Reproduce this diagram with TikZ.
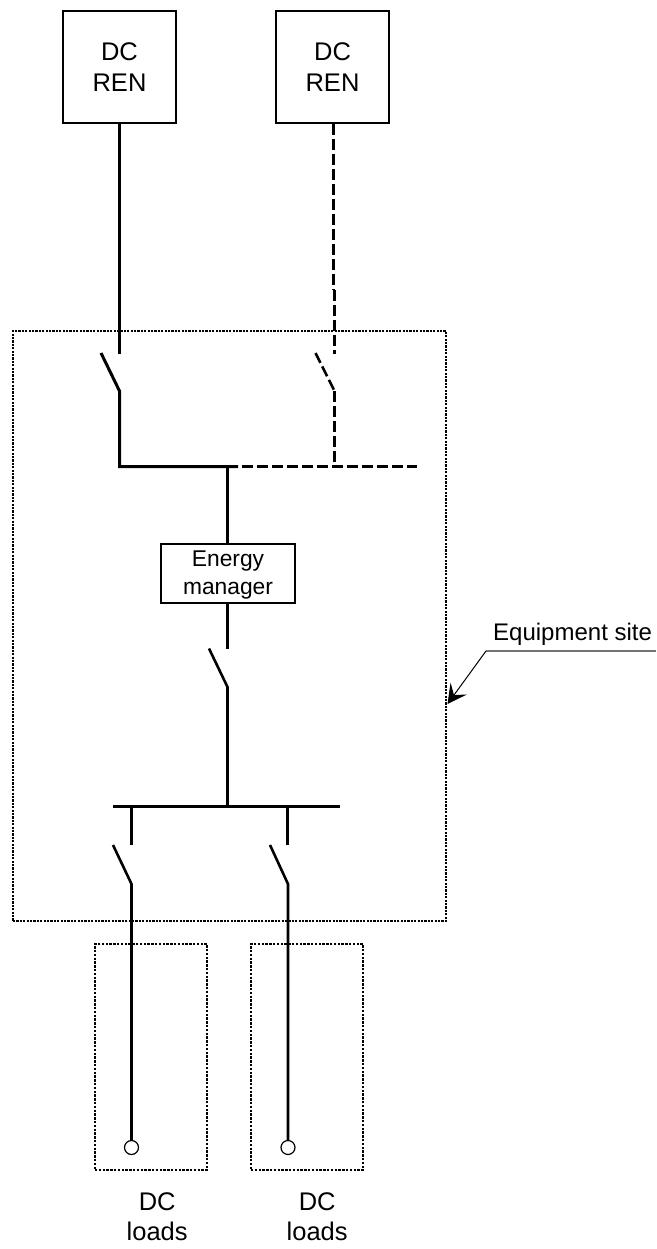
\documentclass[tikz,border=0pt]{standalone}
\usepackage{fontspec}
\setmainfont{Liberation Sans}
\usetikzlibrary{arrows.meta}
\tikzset{
  srcbox/.style={draw=black,line width=2pt,minimum width=113pt,minimum height=112pt,inner sep=0pt,align=center,font=\fontsize{25.5}{30.5}\selectfont},
  mgrbox/.style={draw=black,line width=2pt,minimum width=134pt,minimum height=59pt,inner sep=0pt,align=center,font=\fontsize{22.8}{27.5}\selectfont},
  region/.style={draw=black,line width=1.4pt,dash pattern=on 2.2pt off 1.2pt,minimum width=0pt,inner sep=0pt},
  loadregion/.style={region,line width=1.9pt,dash pattern=on 2.4pt off 1.4pt},
  wire/.style={draw=black,line width=3pt},
  thinwire/.style={draw=black,line width=2.6pt},
  dwire/.style={wire,dash pattern=on 11pt off 4pt},
  lbl/.style={inner sep=0pt,align=center},
  term/.style={circle,draw=black,line width=1.2pt,fill=white,minimum size=14pt,inner sep=0pt},
}
\begin{document}
\begin{tikzpicture}[x=1pt,y=-1pt]
\useasboundingbox (0,0) rectangle (656,1249);
% regions
\node[region,minimum width=433pt,minimum height=590pt] (site) at (229.5,626) {};
\node[loadregion,minimum width=112pt,minimum height=226pt] (loadA) at (151,1057) {};
\node[loadregion,minimum width=112pt,minimum height=226pt] (loadB) at (307,1057) {};
% boxes
\node[srcbox] (renA) at (119.5,67) {DC\\REN};
\node[srcbox] (renB) at (332.5,67) {DC\\REN};
\node[mgrbox] (mgr) at (228,573.5) {\rule{0pt}{18.5pt}Energy\\manager};
% terminals
\node[term] (termA) at (131.5,1147.5) {};
\node[term] (termB) at (288,1147.5) {};
% junction coordinates
\coordinate (sw1t) at (119.5,354);
\coordinate (sw1b) at (119.5,391);
\coordinate (sw1e) at (101,353);
\coordinate (sw2j) at (333.5,290);
\coordinate (sw2t) at (334.5,353.5);
\coordinate (sw2b) at (334.5,391);
\coordinate (sw2e) at (315.5,353);
\coordinate (busL) at (119.5,466.5);
\coordinate (busM) at (227.5,466.5);
\coordinate (busS) at (238,466.5);
\coordinate (busD) at (242,466.5);
\coordinate (busR) at (334.5,466.5);
\coordinate (busE) at (417,466.5);
\coordinate (sw3t) at (227.5,649);
\coordinate (sw3b) at (227.5,687);
\coordinate (sw3e) at (209,648.5);
\coordinate (bus2M) at (227.5,806.5);
\coordinate (bus2L) at (113,806.5);
\coordinate (bus2R) at (340,806.5);
\coordinate (dropA) at (131.5,806.5);
\coordinate (dropB) at (287.5,806.5);
\coordinate (sw4t) at (131.5,845);
\coordinate (sw4b) at (131.5,884);
\coordinate (sw4e) at (113,845);
\coordinate (sw5t) at (287.5,845);
\coordinate (sw5b) at (288,884);
\coordinate (sw5e) at (270,845);
% solid wiring
\draw[wire] (sw1t) -- (sw1t |- renA.south);
\draw[wire] (sw1e) -- (sw1b) -- (busL) -- (busS);
\draw[wire] (busM) -- (busM |- mgr.north);
\draw[wire] (sw3t) -- (sw3t |- mgr.south);
\draw[thinwire] (sw3e) -- (sw3b) -- (bus2M);
\draw[wire] (bus2L) -- (bus2R);
\draw[wire] (dropA) -- (sw4t);
\draw[thinwire] (sw4e) -- (sw4b) -- (termA.north);
\draw[wire] (dropB) -- (sw5t);
\draw[thinwire] (sw5e) -- (sw5b) -- (termB.north);
% dashed wiring
\draw[dwire] (sw2j |- renB.south) -- (sw2j);
\draw[dwire] (sw2j -| sw2t) -- (sw2t);
\draw[dwire,line width=2.6pt] (sw2e) -- (sw2b);
\draw[dwire] (sw2b) -- (busR);
\draw[dwire] (busD) -- (busE);
% labels
\node[lbl,font=\fontsize{24}{29}\selectfont,anchor=base west] (siteLabel) at (493,640) {Equipment site};
\node[lbl,font=\fontsize{25.5}{30}\selectfont] (dcA) at (157.2,1217) {DC\\loads};
\node[lbl,font=\fontsize{25.5}{30}\selectfont] (dcB) at (317.2,1217) {DC\\loads};
% leader
\coordinate (leadE) at (656,651);
\coordinate (leadK) at (486,651);
\coordinate (leadT) at (447.5,704);
\draw[line width=1.4pt,draw=black!55] (leadE) -- (leadK);
\draw[line width=1pt,-{Stealth[length=19pt,width=20pt,inset=8pt]}] (leadK) -- (leadT);
\end{tikzpicture}
\end{document}
